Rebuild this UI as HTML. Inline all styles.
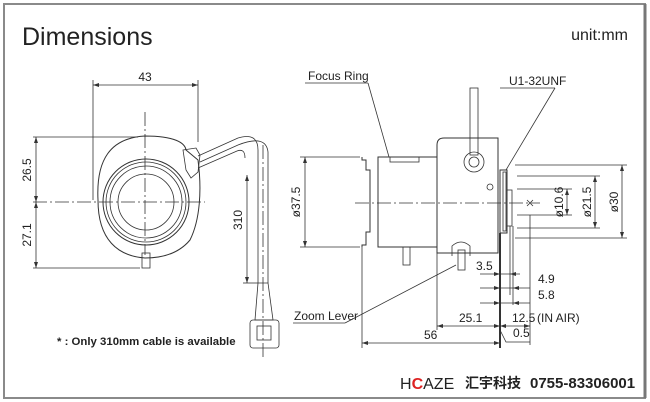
<!DOCTYPE html>
<html><head><meta charset="utf-8"><style>
html,body{margin:0;padding:0;background:#fff}
svg{display:block}
text{font-family:"Liberation Sans","Noto Sans CJK SC",sans-serif;fill:#222}
</style></head><body>
<svg width="650" height="402" viewBox="0 0 650 402" xmlns="http://www.w3.org/2000/svg">
<rect x="4" y="4" width="641" height="394" fill="#fff" stroke="#8a8a8a" stroke-width="2"/>
<line x1="645" y1="4" x2="645" y2="398" stroke="#777" stroke-width="3"/>
<text x="22" y="45" font-size="25" font-family="Liberation Sans" style="font-weight:normal">Dimensions</text>
<text x="628" y="40" font-size="16" text-anchor="end">unit:mm</text>

<g stroke="#333" stroke-width="0.8" fill="none">
<line x1="93" y1="85" x2="198" y2="85"/>
<line x1="93" y1="80" x2="93" y2="200"/>
<line x1="198" y1="80" x2="198" y2="142"/>
<line x1="36" y1="137" x2="36" y2="268"/>
<line x1="33" y1="137" x2="138" y2="137"/>
<line x1="33" y1="202" x2="205" y2="202" stroke-dasharray="14,3,2,3"/>
<line x1="33" y1="268" x2="140" y2="268"/>
<line x1="145" y1="112" x2="145" y2="255" stroke-dasharray="14,3,2,3"/>
<path d="M98,200 C96,160 110,138 145,136 C175,136 185,143 186,150 L198,160 C202,190 200,220 190,240 C180,252 165,258 145,258 C118,256 98,240 98,200 Z" stroke-width="1"/>
<circle cx="146" cy="202" r="43" stroke-width="1"/>
<circle cx="146" cy="202" r="40"/>
<circle cx="146" cy="202" r="36"/>
<circle cx="146" cy="202" r="28"/>
<rect x="142" y="253" width="8" height="15"/>
<path d="M183,150 L196,148 L200,155 L198,172 L191,178 L186,170 Z"/>
<path d="M198,156 L238,138 Q258,132 258,150 L258,283"/>
<path d="M198,168 L237,151 Q245,148 245,158"/>
<path d="M200,162 L238,145 Q266,134 268,152 L268,283"/>
<line x1="263" y1="145" x2="263" y2="360" stroke-dasharray="14,3,2,3"/>
<path d="M258,283 L268,283 L273,320 L255,320 Z"/>
<rect x="250" y="320" width="29" height="28" rx="3"/>
<rect x="257" y="326" width="14" height="14"/>
<line x1="247" y1="175" x2="247" y2="283"/>
<line x1="243" y1="283" x2="258" y2="283"/>

<line x1="305" y1="83" x2="368" y2="83"/>
<line x1="368" y1="83" x2="389" y2="157"/>
<line x1="500" y1="88" x2="555" y2="88"/>
<line x1="555" y1="88" x2="506" y2="170"/>
<path d="M362,157 L362,160 L366,160 L366,170 L370,170 L370,232 L366,232 L366,245 L362,245 L362,247" stroke-width="1"/>
<rect x="378" y="157" width="59" height="90" stroke-width="1"/>
<rect x="390" y="157" width="29" height="5"/>
<path d="M437,253 L437,145 Q437,138 444,138 L498,138 L498,253 Z" stroke-width="1"/>
<rect x="470" y="88" width="8" height="67"/>
<circle cx="474" cy="162" r="10"/>
<circle cx="474" cy="162" r="5"/>
<circle cx="490" cy="187" r="3"/>
<rect x="500" y="170" width="7" height="63" stroke-width="1"/>
<rect x="503" y="172" width="3" height="59"/>
<rect x="507" y="190" width="5" height="36"/>
<line x1="355" y1="203" x2="540" y2="203" stroke-dasharray="14,3,2,3"/>
<path d="M527,200 L533,206 M533,200 L527,206"/>
<rect x="403" y="247" width="7" height="18"/>
<path d="M452,256 L452,246 Q461,238 470,246 L470,256"/>
<rect x="458" y="250" width="7" height="20"/>
<line x1="293" y1="323" x2="345" y2="323"/>
<line x1="345" y1="323" x2="456" y2="265"/>
<line x1="305" y1="157" x2="305" y2="247"/>
<line x1="300" y1="157" x2="360" y2="157"/>
<line x1="300" y1="247" x2="360" y2="247"/>
<line x1="622" y1="165" x2="622" y2="238"/>
<line x1="515" y1="165" x2="627" y2="165"/>
<line x1="515" y1="238" x2="627" y2="238"/>
<line x1="595" y1="176" x2="595" y2="228"/>
<line x1="517" y1="176" x2="600" y2="176"/>
<line x1="517" y1="228" x2="600" y2="228"/>
<line x1="567" y1="189" x2="567" y2="215"/>
<line x1="517" y1="189" x2="572" y2="189"/>
<line x1="517" y1="215" x2="572" y2="215"/>
<line x1="362" y1="247" x2="362" y2="348"/>
<line x1="437" y1="253" x2="437" y2="330"/>
<line x1="500" y1="233" x2="500" y2="348" stroke-width="2"/>
<line x1="510" y1="226" x2="510" y2="295"/>
<line x1="513" y1="226" x2="513" y2="305"/>
<line x1="530" y1="215" x2="530" y2="345"/>
<line x1="480" y1="274" x2="520" y2="274"/>
<line x1="480" y1="288" x2="530" y2="288"/>
<line x1="480" y1="303" x2="530" y2="303"/>
<line x1="437" y1="326" x2="530" y2="326"/>
<line x1="362" y1="343" x2="500" y2="343"/>
<path d="M500,330 L506,342 L530,342"/>
</g>
<g fill="#333">
<path d="M93,85 l6,-2 v4z M198,85 l-6,-2 v4z M36,137 l-2,6 h4z M36,202 l-2,-6 h4z M36,202 l-2,6 h4z M36,268 l-2,-6 h4z M247,175 l-2,6 h4z M247,283 l-2,-6 h4z"/>
<path d="M305,157 l-2,6 h4z M305,247 l-2,-6 h4z M622,165 l-2,6 h4z M622,238 l-2,-6 h4z M595,176 l-2,6 h4z M595,228 l-2,-6 h4z M567,189 l-2,6 h4z M567,215 l-2,-6 h4z"/>
<path d="M362,343 l6,-2 v4z M500,343 l-6,-2 v4z M437,326 l6,-2 v4z M500,326 l-6,-2 v4z M500,326 l6,-2 v4z M530,326 l-6,-2 v4z"/>
<path d="M500,274 l-6,-2 v4z M510,274 l6,-2 v4z M500,288 l-6,-2 v4z M513,288 l6,-2 v4z M500,303 l-6,-2 v4z M513,303 l6,-2 v4z"/>
</g>
<g font-size="12">
<text x="145" y="81" text-anchor="middle">43</text>
<text transform="translate(31,170) rotate(-90)" text-anchor="middle">26.5</text>
<text transform="translate(31,235) rotate(-90)" text-anchor="middle">27.1</text>
<text transform="translate(242,220) rotate(-90)" text-anchor="middle">310</text>
<text x="308" y="80">Focus Ring</text>
<text x="509" y="85">U1-32UNF</text>
<text transform="translate(300,202) rotate(-90)" text-anchor="middle">ø37.5</text>
<text transform="translate(563,202) rotate(-90)" text-anchor="middle">ø10.6</text>
<text transform="translate(591,202) rotate(-90)" text-anchor="middle">ø21.5</text>
<text transform="translate(618,202) rotate(-90)" text-anchor="middle">ø30</text>
<text x="294" y="320">Zoom Lever</text>
<text x="476" y="270">3.5</text>
<text x="538" y="283">4.9</text>
<text x="538" y="299">5.8</text>
<text x="459" y="322">25.1</text>
<text x="512" y="322">12.5</text>
<text x="537" y="322">(IN AIR)</text>
<text x="513" y="337">0.5</text>
<text x="424" y="339">56</text>
</g>
<text x="57" y="345" font-size="11.4" font-weight="bold">* : Only 310mm cable is available</text>
<text x="400" y="389" font-size="16" font-family="Liberation Serif" fill="#222">H<tspan fill="#d22" font-weight="bold">C</tspan>AZE</text>
<text x="465" y="388" font-size="14" font-weight="bold" font-family="Noto Sans CJK SC, sans-serif">汇宇科技</text>
<text x="530" y="388" font-size="15" font-weight="bold">0755-83306001</text>
</svg>
</body></html>
